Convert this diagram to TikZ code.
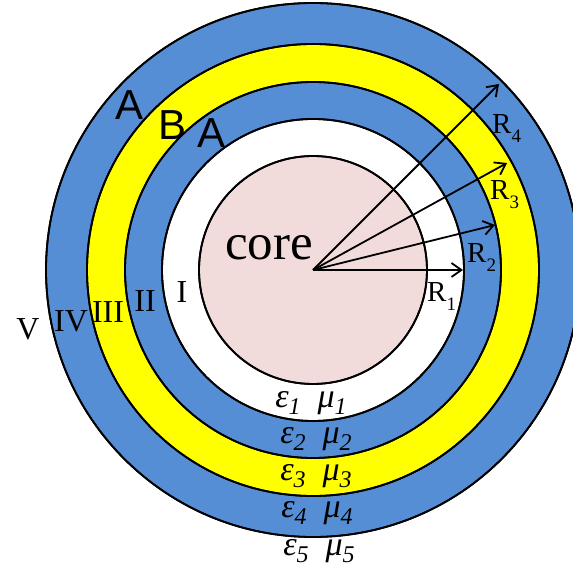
\RequirePackage{fix-cm}
\documentclass[tikz,border=0pt]{standalone}
\usepackage{fontspec}
\setmainfont{Liberation Serif}
\newfontfamily\layerfont{Liberation Sans}
\usepackage{tikz}
\usetikzlibrary{arrows.meta}
\definecolor{shellblue}{HTML}{558ED5}
\definecolor{shellyellow}{HTML}{FFFF00}
\definecolor{corepink}{HTML}{F2DCDB}
\tikzset{
  arr/.style={-{Straight Barb[length=10pt,width=14pt]},line width=1.8pt},
  ring/.style={draw=black,line width=1.8pt},
  numlab/.style={font=\fontsize{32}{34}\selectfont,inner sep=0pt,anchor=base},
  radlab/.style={font=\fontsize{29}{31}\selectfont,inner sep=0pt,anchor=base west},
  matlab/.style={font=\itshape\fontsize{34}{36}\selectfont,inner sep=0pt,anchor=base},
  laylab/.style={font=\layerfont\fontsize{42}{44}\selectfont,inner sep=0pt,anchor=base west},
}
\newcommand{\rlabel}[1]{R\raisebox{-0.28em}{\fontsize{19}{19}\selectfont #1}}
\newcommand{\smallsub}[1]{\raisebox{-0.22em}{\fontsize{24}{24}\selectfont #1}}
\newcommand{\epsmu}[1]{ε\smallsub{#1}\hspace{17pt}μ\smallsub{#1}}

\begin{document}
\begin{tikzpicture}[x=1pt,y=-1pt]
\clip (0,0) rectangle (573,569);

\coordinate (O) at (313,270);

% shells, outside in
\fill[ring,fill=shellblue] (O) circle[radius=267];
\fill[ring,fill=shellyellow] (O) circle[radius=226];
\fill[ring,fill=shellblue] (O) circle[radius=188];
\fill[ring,fill=white] (O) circle[radius=151];
\fill[ring,fill=corepink] (O) circle[radius=114];
\draw[ring] (O) circle[radius=267];
\draw[ring] (O) circle[radius=226];
\draw[ring] (O) circle[radius=188];
\draw[ring] (O) circle[radius=151];
\draw[ring] (O) circle[radius=114];

\node[font=\fontsize{51}{54}\selectfont,inner sep=0pt,anchor=base] (core) at (269,260) {core};

% radii
\coordinate (t1) at (463,270);
\coordinate (t2) at (495,225);
\coordinate (t3) at (507,163);
\coordinate (t4) at (499,84);
\draw[arr] (O) -- (t1);
\draw[arr] (O) -- (t2);
\draw[arr] (O) -- (t3);
\draw[arr] (O) -- (t4);
\node[radlab] (r1) at (427,302) {\rlabel{1}};
\node[radlab] (r2) at (467,263) {\rlabel{2}};
\node[radlab] (r3) at (490,200) {\rlabel{3}};
\node[radlab] (r4) at (492,134) {\rlabel{4}};

% region numbers
\node[numlab] (n1) at (182,303) {I};
\node[numlab] (n2) at (145,312) {II};
\node[numlab] (n3) at (108,323) {III};
\node[numlab] (n4) at (71,332) {IV};
\node[numlab] (n5) at (28,340) {V};

% layer types
\node[laylab] (la) at (115,120) {A};
\node[laylab] (lb) at (158,140) {B};
\node[laylab] (lc) at (197,148) {A};

% material parameters
\node[matlab] (m1) at (311,407) {\epsmu{1}};
\node[matlab] (m2) at (316,443) {\epsmu{2}};
\node[matlab] (m3) at (316,480) {\epsmu{3}};
\node[matlab] (m4) at (317,517) {\epsmu{4}};
\node[matlab] (m5) at (319,555) {\epsmu{5}};
\end{tikzpicture}
\end{document}
